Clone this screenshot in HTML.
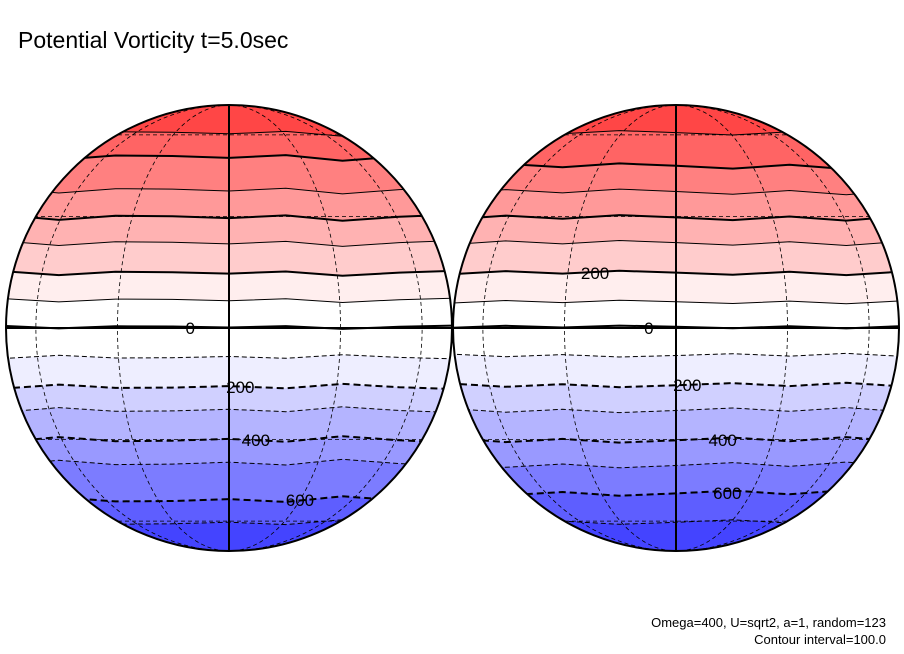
<!DOCTYPE html>
<html><head><meta charset="utf-8"><style>
body{margin:0;background:#fff;}
svg{display:block;font-family:"Liberation Sans",sans-serif;}
</style></head><body>
<svg id="chart" width="904" height="654" viewBox="0 0 904 654" xmlns="http://www.w3.org/2000/svg">
<text x="18" y="48" font-size="23" fill="#000">Potential Vorticity t=5.0sec</text>
<text x="886" y="627" font-size="13" text-anchor="end" fill="#000">Omega=400, U=sqrt2, a=1, random=123</text>
<text x="886" y="644" font-size="13" text-anchor="end" fill="#000">Contour interval=100.0</text>
<g id="globes"></g>
</svg>
<script>
// contour levels and their mean latitude (degrees) per globe
const levels = [100,200,300,400,500,600,700,-100,-200,-300,-400,-500,-600,-700];
const leftLat  = [7.2,14.3,22.4,29.8,38.2,50.1,61,7.5,15.3,21.6,30.1,37.3,50.5,61];
const rightLat = [6.7,14.3,22.4,29.6,37.6,46.5,61,7,14.8,21.6,30.1,37.9,47.7,60.4];
// wiggle (degrees) at 9 sample positions across the disc
const leftWiggle  = [0.5,-0.6,0.3,0.2,-0.2,0.4,-0.8,0.1,0.6];
const rightWiggle = [-0.4,0.5,-0.2,0.6,0.1,-0.5,0.3,-0.6,0.4];
const posColors = ["#ffeeee","#ffcccc","#ffb2b2","#ff9999","#ff8080","#ff6464","#ff4646"];
const negColors = ["#eeeeff","#d0d0ff","#b4b4ff","#9999ff","#7c7cff","#5e5eff","#4444ff"];
const leftLabels = [{v:"0",lat:0,lon:-10},{v:"200",lat:-15.3,lon:3},{v:"400",lat:-30.1,lon:8},{v:"600",lat:-50.5,lon:30}];
const rightLabels = [{v:"200",lat:14.3,lon:-22},{v:"0",lat:0,lon:-7},{v:"200",lat:-14.8,lon:3},{v:"400",lat:-30.1,lon:14},{v:"600",lat:-47.7,lon:20}];

const NS="http://www.w3.org/2000/svg";
const R=223, CY=328;
function mk(tag,attrs,parent){const e=document.createElementNS(NS,tag);for(const k in attrs)e.setAttribute(k,attrs[k]);parent.appendChild(e);return e;}
const rad=d=>d*Math.PI/180;
function yOf(lat){return CY-R*Math.sin(rad(lat));}

function contourPts(cx,lat,wig,sign){
  const pts=[];
  for(let i=0;i<wig.length;i++){
    const x=cx-R-4+(2*R+8)*i/(wig.length-1);
    pts.push([x,yOf(sign*(lat+wig[i]*(0.6+lat/40)))]);
  }
  return pts;
}
function drawGlobe(cx,lats,wig,labels,id){
  const g=mk('g',{},document.getElementById('globes'));
  
  
  const clip=mk('clipPath',{id:id+'-clip'},g);
  mk('circle',{cx:cx,cy:CY,r:R},clip);
  const inner=mk('g',{'clip-path':'url(#'+id+'-clip)'},g);
  mk('circle',{cx:cx,cy:CY,r:R,fill:'#fff'},inner);
  // bands
  levels.forEach((lv,i)=>{
    const sign=lv>0?1:-1;
    const idx=Math.abs(lv)/100-1;
    const pts=contourPts(cx,lats[i],wig,sign);
    const edge=sign>0?CY-R-5:CY+R+5;
    let d='M'+pts.map(p=>p[0].toFixed(1)+','+p[1].toFixed(1)).join('L')+'L'+(cx+R+5)+','+edge+'L'+(cx-R-5)+','+edge+'Z';
    const band=mk('path',{d:d,fill:sign>0?posColors[idx]:negColors[idx]},inner);
    
    
  });
  // grid: parallels
  [-60,-30,30,60].forEach(lat=>{
    mk('line',{x1:cx-R,x2:cx+R,y1:yOf(lat),y2:yOf(lat),stroke:'#000','stroke-width':0.8,'stroke-dasharray':'4,3'},inner);
  });
  // meridians
  [-60,-30,30,60].forEach(lon=>{
    const rx=Math.abs(R*Math.sin(rad(lon)));
    const sweep=lon>0?1:0;
    mk('path',{d:`M${cx},${CY-R} A${rx},${R} 0 0 ${sweep} ${cx},${CY+R}`,fill:'none',stroke:'#000','stroke-width':0.8,'stroke-dasharray':'4,3'},inner);
  });
  // contour lines
  levels.forEach((lv,i)=>{
    const sign=lv>0?1:-1;
    const pts=contourPts(cx,lats[i],wig,sign);
    const thick=Math.abs(lv)%200===0;
    const attrs={d:'M'+pts.map(p=>p[0].toFixed(1)+','+p[1].toFixed(1)).join('L'),fill:'none',stroke:'#000','stroke-width':thick?2:1};
    if(sign<0)attrs['stroke-dasharray']=thick?'7,4':'5,3';
    const c=mk('path',attrs,inner);
    
    
  });
  // zero contour
  const z=mk('path',{d:'M'+contourPts(cx,0,wig,1).map(p=>p[0].toFixed(1)+','+(p[1]-1).toFixed(1)).join('L'),fill:'none',stroke:'#000','stroke-width':2},inner);
  
  
  // central meridian
  mk('line',{x1:cx,x2:cx,y1:CY-R,y2:CY+R,stroke:'#000','stroke-width':2},g);
  // labels
  labels.forEach(l=>{
    const x=cx+R*Math.cos(rad(l.lat))*Math.sin(rad(l.lon));
    const t=mk('text',{x:x,y:yOf(l.lat)+6,'font-size':17,'text-anchor':'middle',fill:'#000'},g);
    t.textContent=l.v;
    
    
  });
  // outline
  mk('circle',{cx:cx,cy:CY,r:R,fill:'none',stroke:'#000','stroke-width':2},g);
}
drawGlobe(229,leftLat,leftWiggle,leftLabels,'left-globe');
drawGlobe(676,rightLat,rightWiggle,rightLabels,'right-globe');
const eq=mk('line',{x1:6,x2:899,y1:CY,y2:CY,stroke:'#000','stroke-width':2},document.getElementById('globes'));


</script>
</body></html>
